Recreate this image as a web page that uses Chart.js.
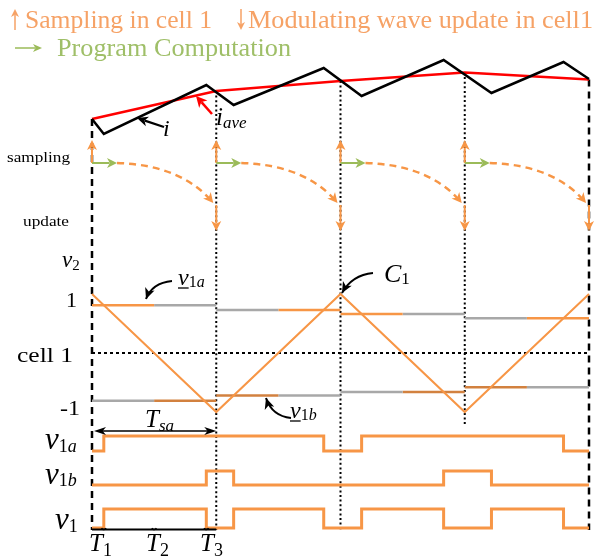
<!DOCTYPE html>
<html>
<head>
<meta charset="utf-8">
<title>Sampling and modulating wave update in cell 1</title>
<script src="https://cdn.jsdelivr.net/npm/chart.js"></script>
<style>
  html, body { margin: 0; padding: 0; background: #fff; }
  #wrap { width: 597px; height: 559px; }
</style>
</head>
<body>
<div id="wrap"><canvas id="c" width="597" height="559"></canvas></div>
<script>
  // time is counted in sampling periods Tsa
  const periods = [0, 1, 2, 3, 4];
  const carrier = [1, -1, 1, -1, 1];
  const refA = [0.81, 0.73, 0.66, 0.59];      // v1a held over each period
  const refB = [-0.81, -0.72, -0.66, -0.58];  // v1b held over each period
  const edgesA = [0.095, 1.865, 2.17, 3.795];
  const edgesB = [0.92, 1.14, 2.83, 3.215];
  const edgesV1 = [0.095, 0.92, 1.14, 1.865, 2.17, 2.83, 3.215, 3.795];
  const currentT = [0, 0.095, 0.92, 1.14, 1.865, 2.17, 2.83, 3.215, 3.795, 4];
  const currentI = [3.1, 1.6, 6.5, 4.5, 8.2, 5.4, 9.0, 5.7, 8.8, 7.1];
  const averageI = [3.1, 5.9, 6.9, 7.75, 7.05];
  const sampleAt = [0, 1, 2, 3];
  const updateAt = [1, 2, 3, 4];

  const W = 597, H = 559;
  const ORANGE = '#f79646', ORANGE_DK = '#d2813f', GRAY = '#a8a8a8';
  const GREEN = '#9bbb59', TXT_OR = '#f6a266', TXT_GR = '#9fbf68';
  const SERIF = '"Liberation Serif", "Times New Roman", serif';

  // range for a vertical scale so that lo sits at pxLo and hi at pxHi
  function band(lo, hi, pxLo, pxHi) {
    const u = (hi - lo) / (pxLo - pxHi);
    const max = hi + pxHi * u;
    return { min: max - H * u, max: max };
  }
  const xr = (function () {
    const u = 4 / (589 - 92);
    const min = -92 * u;
    return { min: min, max: min + W * u };
  })();

  function xy(xs, ys) { return xs.map((x, k) => ({ x: x, y: ys[k] })); }
  function pulse(edges) {
    let lvl = 0;
    const pts = [{ x: 0, y: 0 }];
    edges.forEach(e => { pts.push({ x: e, y: lvl }); lvl = 1 - lvl; pts.push({ x: e, y: lvl }); });
    pts.push({ x: 4, y: lvl });
    return pts;
  }
  function line(data, color, width, yAxisID, extra) {
    return Object.assign({ data: data, borderColor: color, borderWidth: width, yAxisID: yAxisID,
      showLine: true, pointRadius: 0, fill: false, tension: 0 }, extra || {});
  }

  const datasets = [];
  datasets.push(line(xy(currentT, currentI), '#000', 2.5, 'yI'));
  datasets.push(line(xy(periods, averageI), '#ff0000', 2.5, 'yI'));
  datasets.push(line(xy(periods, carrier), ORANGE, 2, 'yM'));
  // held references, each period split in a compared half and an idle half
  refA.forEach((v, k) => {
    [0, 1].forEach(h => {
      const seg = [{ x: k + h * 0.5, y: v }, { x: k + h * 0.5 + 0.5, y: v }];
      const segB = [{ x: k + h * 0.5, y: refB[k] }, { x: k + h * 0.5 + 0.5, y: refB[k] }];
      const topOn = (k % 2 === 0) === (h === 0);
      datasets.push(line(seg, topOn ? ORANGE : GRAY, 2.5, 'yM'));
      datasets.push(line(segB, topOn ? GRAY : ORANGE_DK, 2.5, 'yM'));
    });
  });
  datasets.push(line([{ x: 0, y: 0 }, { x: 4, y: 0 }], '#000', 2, 'yM', { borderDash: [3, 3] }));
  datasets.push(line(pulse(edgesA), ORANGE, 3, 'yA'));
  datasets.push(line(pulse(edgesB), ORANGE, 3, 'yB'));
  datasets.push(line(pulse(edgesV1), ORANGE, 3, 'yV'));

  function head(ctx, x, y, ang, len, half, color) {
    ctx.save();
    ctx.fillStyle = color;
    ctx.translate(x, y);
    ctx.rotate(ang);
    ctx.beginPath();
    ctx.moveTo(0, 0);
    ctx.lineTo(-len, -half);
    ctx.lineTo(-len * 0.72, 0);
    ctx.lineTo(-len, half);
    ctx.closePath();
    ctx.fill();
    ctx.restore();
  }
  function arrow(ctx, x1, y1, x2, y2, color, width, len, half) {
    const a = Math.atan2(y2 - y1, x2 - x1);
    ctx.save();
    ctx.strokeStyle = color;
    ctx.lineWidth = width;
    ctx.beginPath();
    ctx.moveTo(x1, y1);
    ctx.lineTo(x2 - Math.cos(a) * len * 0.75, y2 - Math.sin(a) * len * 0.75);
    ctx.stroke();
    ctx.restore();
    head(ctx, x2, y2, a, len, half, color);
  }
  function bend(ctx, x1, y1, cx, cy, x2, y2, color, width, dash, len, half) {
    ctx.save();
    ctx.strokeStyle = color;
    ctx.lineWidth = width;
    ctx.setLineDash(dash);
    ctx.beginPath();
    ctx.moveTo(x1, y1);
    ctx.quadraticCurveTo(cx, cy, x2, y2);
    ctx.stroke();
    ctx.restore();
    head(ctx, x2, y2, Math.atan2(y2 - cy, x2 - cx), len, half, color);
  }
  function txt(ctx, s, x, y, size, opt) {
    opt = opt || {};
    ctx.save();
    ctx.font = (opt.italic ? 'italic ' : '') + size + 'px ' + SERIF;
    ctx.fillStyle = opt.color || '#000';
    ctx.textBaseline = 'alphabetic';
    ctx.textAlign = 'left';
    const w = ctx.measureText(s).width;
    ctx.translate(x, y);
    if (opt.fit) ctx.scale(opt.fit / w, 1);
    ctx.fillText(s, 0, 0);
    ctx.restore();
    return opt.fit || w;
  }
  // italic symbol with a subscript; digits upright, letters italic
  function sym(ctx, main, sub, x, y, size, subSize, opt) {
    opt = opt || {};
    const w = txt(ctx, main, x, y, size, { italic: true });
    let sx = x + w + (opt.gap || 0);
    sub.split('').forEach(ch => {
      sx += txt(ctx, ch, sx, y + (opt.drop || 3), subSize, { italic: !/[0-9]/.test(ch) });
    });
    if (opt.under) {
      ctx.save();
      ctx.strokeStyle = '#000';
      ctx.lineWidth = 1.3;
      ctx.beginPath();
      ctx.moveTo(x, y + 3);
      ctx.lineTo(x + w, y + 3);
      ctx.stroke();
      ctx.restore();
    }
  }

  const schematic = {
    id: 'schematic',
    beforeDatasetsDraw(chart) {
      const ctx = chart.ctx;
      const X = t => chart.scales.x.getPixelForValue(t);
      const L = v => chart.scales.yL.getPixelForValue(v);
      const I = v => chart.scales.yI.getPixelForValue(v);
      const bottoms = [530, 530, 530, 425, 530];
      ctx.save();
      ctx.strokeStyle = '#000';
      periods.forEach((t, k) => {
        const edge = k === 0 || k === periods.length - 1;
        ctx.lineWidth = edge ? 2.5 : 2;
        ctx.setLineDash(edge ? [7, 5] : [2, 2.6]);
        ctx.beginPath();
        ctx.moveTo(X(t), I(averageI[k]));
        ctx.lineTo(X(t), L(bottoms[k]));
        ctx.stroke();
      });
      ctx.restore();
    },
    afterDatasetsDraw(chart) {
      const ctx = chart.ctx;
      const X = t => chart.scales.x.getPixelForValue(t);
      const L = v => chart.scales.yL.getPixelForValue(v);

      // sampling, computation and update events
      sampleAt.forEach(t => {
        const x = X(t);
        arrow(ctx, x, L(163), x, L(140), ORANGE, 2, 10, 5);
        arrow(ctx, x, L(163), x + 25, L(163), GREEN, 2, 10, 5);
        bend(ctx, x + 25, L(163), x + 90, L(165), X(t + 1) - 3, L(203), ORANGE, 2.5, [7, 5], 10, 5);
      });
      updateAt.forEach(t => {
        const x = X(t);
        arrow(ctx, x, L(205), x, L(231), ORANGE, 2, 10, 5);
      });

      // Tsa span and time axis
      ctx.save();
      ctx.strokeStyle = '#000';
      ctx.lineWidth = 1.5;
      ctx.beginPath();
      ctx.moveTo(X(0) + 6, L(431));
      ctx.lineTo(X(1) - 6, L(431));
      ctx.stroke();
      ctx.lineWidth = 2;
      ctx.beginPath();
      ctx.moveTo(X(0), L(529.5));
      ctx.lineTo(X(1), L(529.5));
      ctx.stroke();
      ctx.lineWidth = 1.5;
      [edgesV1[0], 0.5, edgesV1[1]].forEach(t => {
        ctx.beginPath();
        ctx.arc(X(t), L(527), 2.5, 0.15 * Math.PI, 0.85 * Math.PI);
        ctx.stroke();
      });
      ctx.restore();
      head(ctx, X(1), L(431), 0, 12, 4, '#000');
      head(ctx, X(0) + 2, L(431), Math.PI, 12, 4, '#000');

      // pointers
      bend(ctx, 172, 281, 152, 283, 146, 299, '#000', 2, [], 11, 5);
      bend(ctx, 373, 273, 352, 275, 342, 293, '#000', 2, [], 11, 5);
      bend(ctx, 291, 418, 272, 416, 266, 398, '#000', 2, [], 11, 5);
      arrow(ctx, 164, 127, 137, 118, '#000', 2.2, 11, 5);
      arrow(ctx, 212, 114, 196, 96, '#ff0000', 2.5, 11, 5.5);

      // legend
      arrow(ctx, 15, 30, 15, 9, TXT_OR, 1.5, 8, 4);
      txt(ctx, 'Sampling in cell 1', 25, 28, 26, { color: TXT_OR, fit: 187 });
      arrow(ctx, 241, 9, 241, 30, TXT_OR, 1.5, 8, 4);
      txt(ctx, 'Modulating wave update in cell1', 248, 28, 26, { color: TXT_OR, fit: 345 });
      arrow(ctx, 15, 48, 42, 48, GREEN, 1.5, 9, 4);
      txt(ctx, 'Program Computation', 57, 56, 26, { color: TXT_GR, fit: 234 });

      // row labels
      txt(ctx, 'sampling', 7, 162, 15, { fit: 63 });
      txt(ctx, 'update', 23, 226, 15, { fit: 46 });
      sym(ctx, 'v', '2', 62, 267, 23, 15, { drop: 3 });
      txt(ctx, '1', 66, 307, 22);
      txt(ctx, 'cell 1', 17, 362, 22, { fit: 56 });
      txt(ctx, '-1', 60, 415, 22, { fit: 20 });
      sym(ctx, 'v', '1a', 45, 449, 31, 18, { drop: 3 });
      sym(ctx, 'v', '1b', 45, 484, 31, 18, { drop: 2 });
      sym(ctx, 'v', '1', 55, 529, 31, 18, { drop: 3 });
      sym(ctx, 'T', '1', 89, 551, 25, 18, { drop: 5 });
      sym(ctx, 'T', '2', 146, 551, 25, 18, { drop: 5 });
      sym(ctx, 'T', '3', 200, 551, 25, 18, { drop: 5 });
      sym(ctx, 'T', 'sa', 145, 427, 25, 17, { drop: 4 });

      // curve names
      sym(ctx, 'v', '1a', 178, 285, 24, 16, { under: true, drop: 2 });
      sym(ctx, 'v', '1b', 290, 418, 24, 16, { under: true, drop: 2 });
      sym(ctx, 'C', '1', 384, 282, 26, 17, { drop: 2 });
      txt(ctx, 'i', 163, 136, 24, { italic: true });
      sym(ctx, 'i', 'ave', 216, 125, 25, 17, { drop: 3 });
    }
  };

  const scale = r => Object.assign({ type: 'linear', display: false }, r);
  new Chart(document.getElementById('c'), {
    type: 'scatter',
    data: { datasets: datasets },
    options: {
      responsive: false,
      animation: false,
      devicePixelRatio: 1,
      events: [],
      layout: { padding: 0 },
      plugins: { legend: { display: false }, tooltip: { enabled: false } },
      scales: {
        x: scale(xr),
        yI: scale(band(0, 10, 150, 50)),
        yM: scale(band(-1, 1, 412, 294)),
        yA: scale(band(0, 1, 451, 436)),
        yB: scale(band(0, 1, 485, 471)),
        yV: scale(band(0, 1, 528, 509)),
        yL: scale({ min: 0, max: H, reverse: true })
      }
    },
    plugins: [schematic]
  });
</script>
</body>
</html>
